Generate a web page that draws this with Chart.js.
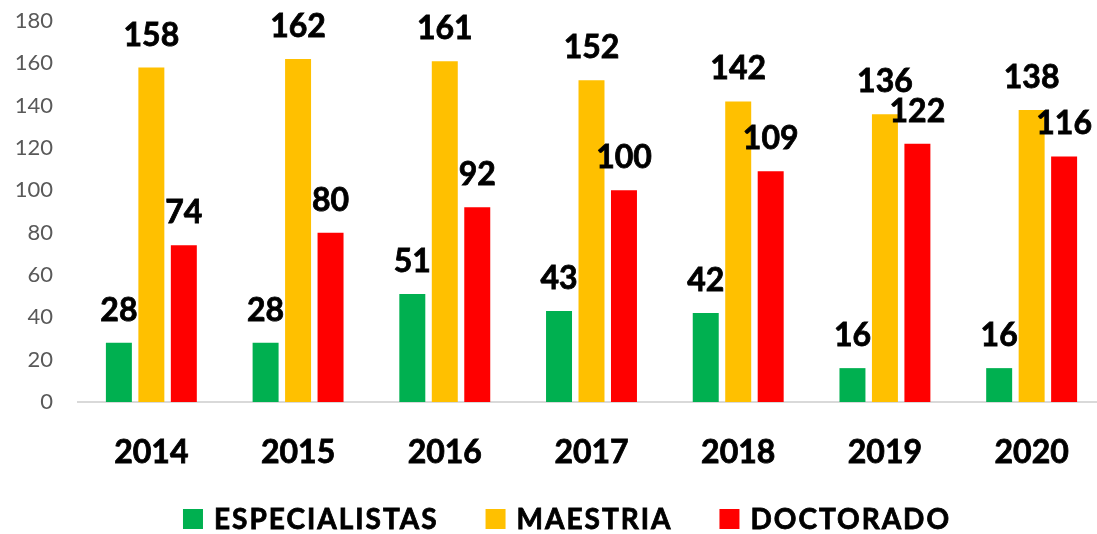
<!DOCTYPE html>
<html>
<head>
<meta charset="utf-8">
<script src="https://cdn.jsdelivr.net/npm/chart.js@4.4.1/dist/chart.umd.min.js"></script>
<style>
  html, body { margin: 0; padding: 0; background: #fff; overflow: hidden; }
</style>
</head>
<body>
<canvas id="chart" width="1105" height="534"></canvas>
<script>
const years = ['2014', '2015', '2016', '2017', '2018', '2019', '2020'];
const especialistas = [28, 28, 51, 43, 42, 16, 16];
const maestria = [158, 162, 161, 152, 142, 136, 138];
const doctorado = [74, 80, 92, 100, 109, 122, 116];
const yTicks = [0, 20, 40, 60, 80, 100, 120, 140, 160, 180];

// value labels above each bar
const barLabels = {
    id: 'barLabels',
    afterDatasetsDraw(chart) {
        const ctx = chart.ctx;
        ctx.save();
        ctx.font = 'bold 32px Lato';
        ctx.fillStyle = '#000';
        ctx.strokeStyle = '#000';
        ctx.lineWidth = 0.8;
        ctx.textAlign = 'center';
        ctx.textBaseline = 'alphabetic';
        chart.data.datasets.forEach((ds, i) => {
            chart.getDatasetMeta(i).data.forEach((bar, j) => {
                ctx.fillText(ds.data[j], bar.x, bar.y - 22);
                ctx.strokeText(ds.data[j], bar.x, bar.y - 22);
            });
        });
        ctx.restore();
    }
};

// legend row at the bottom, excel style
const bottomLegend = {
    id: 'bottomLegend',
    afterDraw(chart) {
        const ctx = chart.ctx;
        ctx.save();
        ctx.font = 'bold 28px Lato';
        ctx.letterSpacing = '2px';
        ctx.textBaseline = 'middle';
        ctx.textAlign = 'left';
        ctx.lineWidth = 0.8;
        ctx.strokeStyle = '#000';
        const items = chart.data.datasets.map(ds => ({
            text: ds.label,
            color: ds.backgroundColor,
            w: ctx.measureText(ds.label).width
        }));
        const box = 20, gap = 11, space = 47;
        const total = items.reduce((s, it) => s + box + gap + it.w, 0) + space * (items.length - 1);
        let x = 567 - total / 2;
        const cy = 519;
        items.forEach(it => {
            ctx.fillStyle = it.color;
            ctx.fillRect(x, cy - box / 2, box, box);
            x += box + gap;
            ctx.fillStyle = '#000';
            ctx.fillText(it.text, x, cy + 1);
            ctx.strokeText(it.text, x, cy + 1);
            x += it.w + space;
        });
        ctx.restore();
    }
};

new Chart(document.getElementById('chart').getContext('2d'), {
    type: 'bar',
    data: {
        labels: years,
        datasets: [
            { label: 'ESPECIALISTAS', data: especialistas, backgroundColor: '#00B050' },
            { label: 'MAESTRIA', data: maestria, backgroundColor: '#FFC000' },
            { label: 'DOCTORADO', data: doctorado, backgroundColor: '#FF0000' }
        ]
    },
    options: {
        responsive: false,
        animation: false,
        layout: { padding: { top: 21, right: 0, bottom: 47, left: 0 } },
        datasets: {
            bar: { categoryPercentage: 0.664, barPercentage: 0.8 }
        },
        plugins: {
            legend: { display: false },
            tooltip: { enabled: false }
        },
        scales: {
            x: {
                grid: { display: false },
                border: { color: '#d9d9d9', width: 2 },
                ticks: {
                    color: '#000',
                    font: { family: 'Lato', size: 32, weight: 'bold' },
                    textStrokeColor: '#000',
                    textStrokeWidth: 0.8,
                    padding: 23
                },
                afterFit(scale) { scale.height = 85; }
            },
            y: {
                min: 0,
                max: 180,
                grid: { display: false, drawTicks: true, tickLength: 25 },
                border: { display: false },
                afterBuildTicks(scale) { scale.ticks = yTicks.map(v => ({ value: v })); },
                ticks: {
                    color: '#595959',
                    font: { family: 'Lato', size: 22 },
                    padding: 0
                },
                afterFit(scale) { scale.width = 78; }
            }
        }
    },
    plugins: [barLabels, bottomLegend]
});
</script>
</body>
</html>
